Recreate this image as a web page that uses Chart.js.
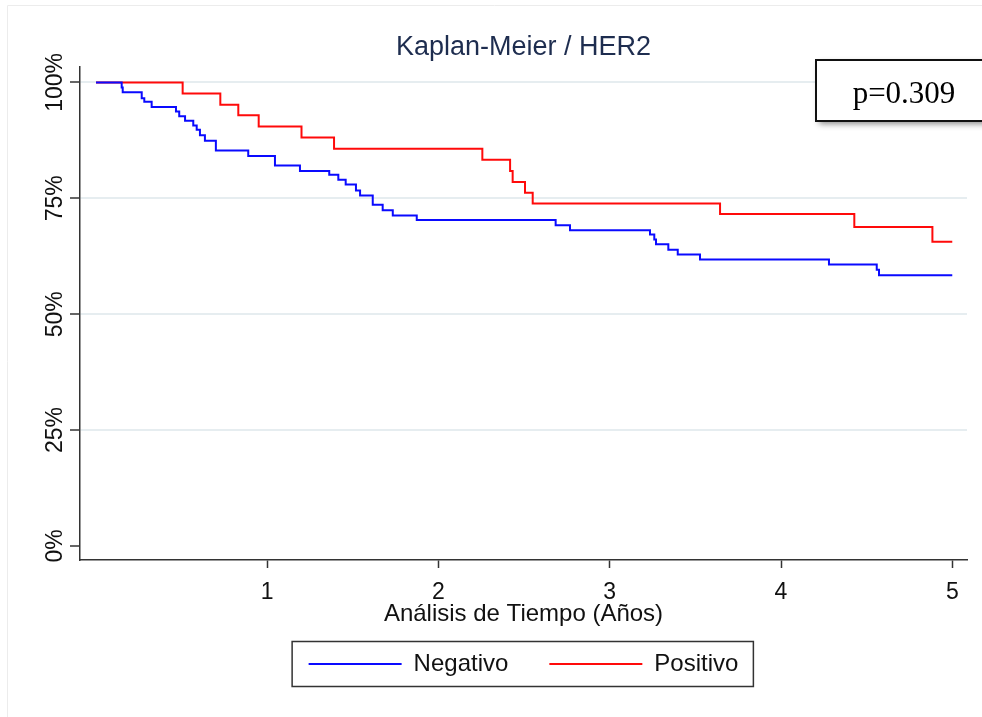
<!DOCTYPE html>
<html><head><meta charset="utf-8">
<script src="https://cdn.jsdelivr.net/npm/chart.js@4"></script>
<style>html,body{margin:0;padding:0;background:#fff}#wrap{width:982px;height:717px;position:relative}</style>
</head><body><div id="wrap"><canvas id="c" width="982" height="717"></canvas></div>
<script>
const chartTitle = 'Kaplan-Meier / HER2';
const xAxisTitle = 'Análisis de Tiempo (Años)';
const seriesNames = ['Negativo', 'Positivo'];
const negTimes = [0, 0.150, 0.156, 0.267, 0.282, 0.325, 0.467, 0.486, 0.520, 0.568, 0.588, 0.607, 0.636, 0.700, 0.889, 1.045, 1.191, 1.362, 1.415, 1.458, 1.518, 1.542, 1.616, 1.674, 1.733, 1.873, 2.684, 2.768, 3.235, 3.260, 3.270, 3.342, 3.397, 3.527, 4.280, 4.559, 4.572, 5.0];
const negSurv  = [100, 98.9, 97.9, 96.6, 95.8, 94.7, 93.7, 92.7, 91.7, 90.7, 89.8, 88.6, 87.4, 85.3, 84.1, 82.1, 80.9, 80.1, 79.0, 78.0, 76.7, 75.6, 73.6, 72.4, 71.3, 70.3, 69.2, 68.1, 67.2, 66.1, 65.1, 63.9, 62.9, 61.8, 60.7, 59.6, 58.4, 58.4];
const posTimes = [0, 0.506, 0.726, 0.831, 0.950, 1.200, 1.390, 2.256, 2.418, 2.433, 2.505, 2.550, 3.644, 4.428, 4.884, 5.0];
const posSurv  = [100, 97.6, 95.2, 92.9, 90.5, 88.1, 85.7, 83.3, 80.9, 78.5, 76.2, 73.9, 71.6, 68.8, 65.6, 65.6];
const xTickValues = [1, 2, 3, 4, 5];
const yTickValues = [0, 25, 50, 75, 100];
const pValueText = 'p=0.309';

const toPoints = (ts, ss) => ts.map((t, i) => ({x: t, y: ss[i]}));

const decorPlugin = {
  id: 'decor',
  beforeDraw(chart) {
    const ctx = chart.ctx;
    ctx.save();
    ctx.strokeStyle = '#ececec';
    ctx.lineWidth = 1;
    ctx.beginPath();
    ctx.moveTo(7.5, 717); ctx.lineTo(7.5, 5.5); ctx.lineTo(982, 5.5);
    ctx.stroke();
    ctx.restore();
  },
  afterDraw(chart) {
    const ctx = chart.ctx;
    // legend frame
    const lg = chart.legend;
    if (lg && lg.legendHitBoxes && lg.legendHitBoxes.length) {
      const hb = lg.legendHitBoxes;
      const first = hb[0], last = hb[hb.length - 1];
      const cy = first.top + first.height / 2;
      ctx.save();
      ctx.strokeStyle = '#333';
      ctx.lineWidth = 1.5;
      const l = first.left - 16.5, r = last.left + last.width + 15;
      ctx.strokeRect(l, cy - 22.5, r - l, 45);
      ctx.restore();
    }
    // p-value box
    ctx.save();
    ctx.shadowColor = 'rgba(0,0,0,0.45)';
    ctx.shadowBlur = 6;
    ctx.shadowOffsetX = 3;
    ctx.shadowOffsetY = 3;
    ctx.fillStyle = '#fff';
    ctx.fillRect(816, 60, 172, 61);
    ctx.restore();
    ctx.save();
    ctx.strokeStyle = '#111';
    ctx.lineWidth = 2;
    ctx.strokeRect(816, 60, 172, 61);
    ctx.fillStyle = '#000';
    ctx.font = '31px "Liberation Serif", "Times New Roman", serif';
    ctx.textAlign = 'center';
    ctx.textBaseline = 'alphabetic';
    ctx.fillText(pValueText, 904, 103);
    ctx.restore();
  }
};

new Chart(document.getElementById('c'), {
  type: 'line',
  data: {
    datasets: [
      { label: seriesNames[0], data: toPoints(negTimes, negSurv), borderColor: '#0a0aff', backgroundColor: '#0a0aff', borderWidth: 2, pointRadius: 0, stepped: true, fill: false },
      { label: seriesNames[1], data: toPoints(posTimes, posSurv), borderColor: '#ff0a0a', backgroundColor: '#ff0a0a', borderWidth: 2, pointRadius: 0, stepped: true, fill: false }
    ]
  },
  options: {
    responsive: false,
    animation: false,
    devicePixelRatio: 1,
    layout: { padding: { left: 43.3, right: 15, top: 0, bottom: 31 } },
    plugins: {
      tooltip: { enabled: false },
      title: {
        display: true, text: chartTitle, fullSize: false,
        color: '#1e2d4f',
        font: { family: '"Liberation Sans", Arial, sans-serif', size: 27, weight: 'normal', lineHeight: 1.2 },
        padding: { top: 31, bottom: 3 }
      },
      legend: {
        display: true, position: 'bottom', fullSize: false,
        labels: {
          boxWidth: 93, boxHeight: 2, padding: 41,
          color: '#111',
          font: { family: '"Liberation Sans", Arial, sans-serif', size: 24 },
          generateLabels(chart) {
            return Chart.defaults.plugins.legend.labels.generateLabels(chart).map(l => Object.assign(l, { lineWidth: 0, fillStyle: l.strokeStyle }));
          }
        }
      }
    },
    scales: {
      x: {
        type: 'linear', position: 'bottom', min: -0.0934, max: 5.086,
        afterBuildTicks(scale) { scale.ticks = xTickValues.map(v => ({ value: v })); },
        grid: { drawOnChartArea: false, drawTicks: true, tickLength: 8, tickColor: '#333', tickWidth: 1.5 },
        border: { display: true, color: '#333', width: 1.5 },
        ticks: { color: '#111', padding: 13.5, font: { family: '"Liberation Sans", Arial, sans-serif', size: 23, lineHeight: 1 }, callback: v => String(v), maxRotation: 0 },
        title: { display: true, text: xAxisTitle, color: '#111', font: { family: '"Liberation Sans", Arial, sans-serif', size: 24, lineHeight: 1 }, padding: { top: -16, bottom: -15 } }
      },
      y: {
        type: 'linear', position: 'left', min: -3.02, max: 103.45,
        afterBuildTicks(scale) { scale.ticks = yTickValues.map(v => ({ value: v })); },
        grid: {
          drawTicks: true, tickLength: 10, tickColor: '#333', tickWidth: 1.5, lineWidth: 2,
          color: c => (c.tick && c.tick.value === 0) ? 'rgba(0,0,0,0)' : '#e6edf0'
        },
        border: { display: true, color: '#333', width: 1.5 },
        ticks: {
          color: '#111', minRotation: 90, maxRotation: 90, crossAlign: 'center', padding: -15.4,
          font: { family: '"Liberation Sans", Arial, sans-serif', size: 23, lineHeight: 2.5 },
          callback: v => v + '%'
        }
      }
    }
  },
  plugins: [decorPlugin]
});
</script>
</body></html>
